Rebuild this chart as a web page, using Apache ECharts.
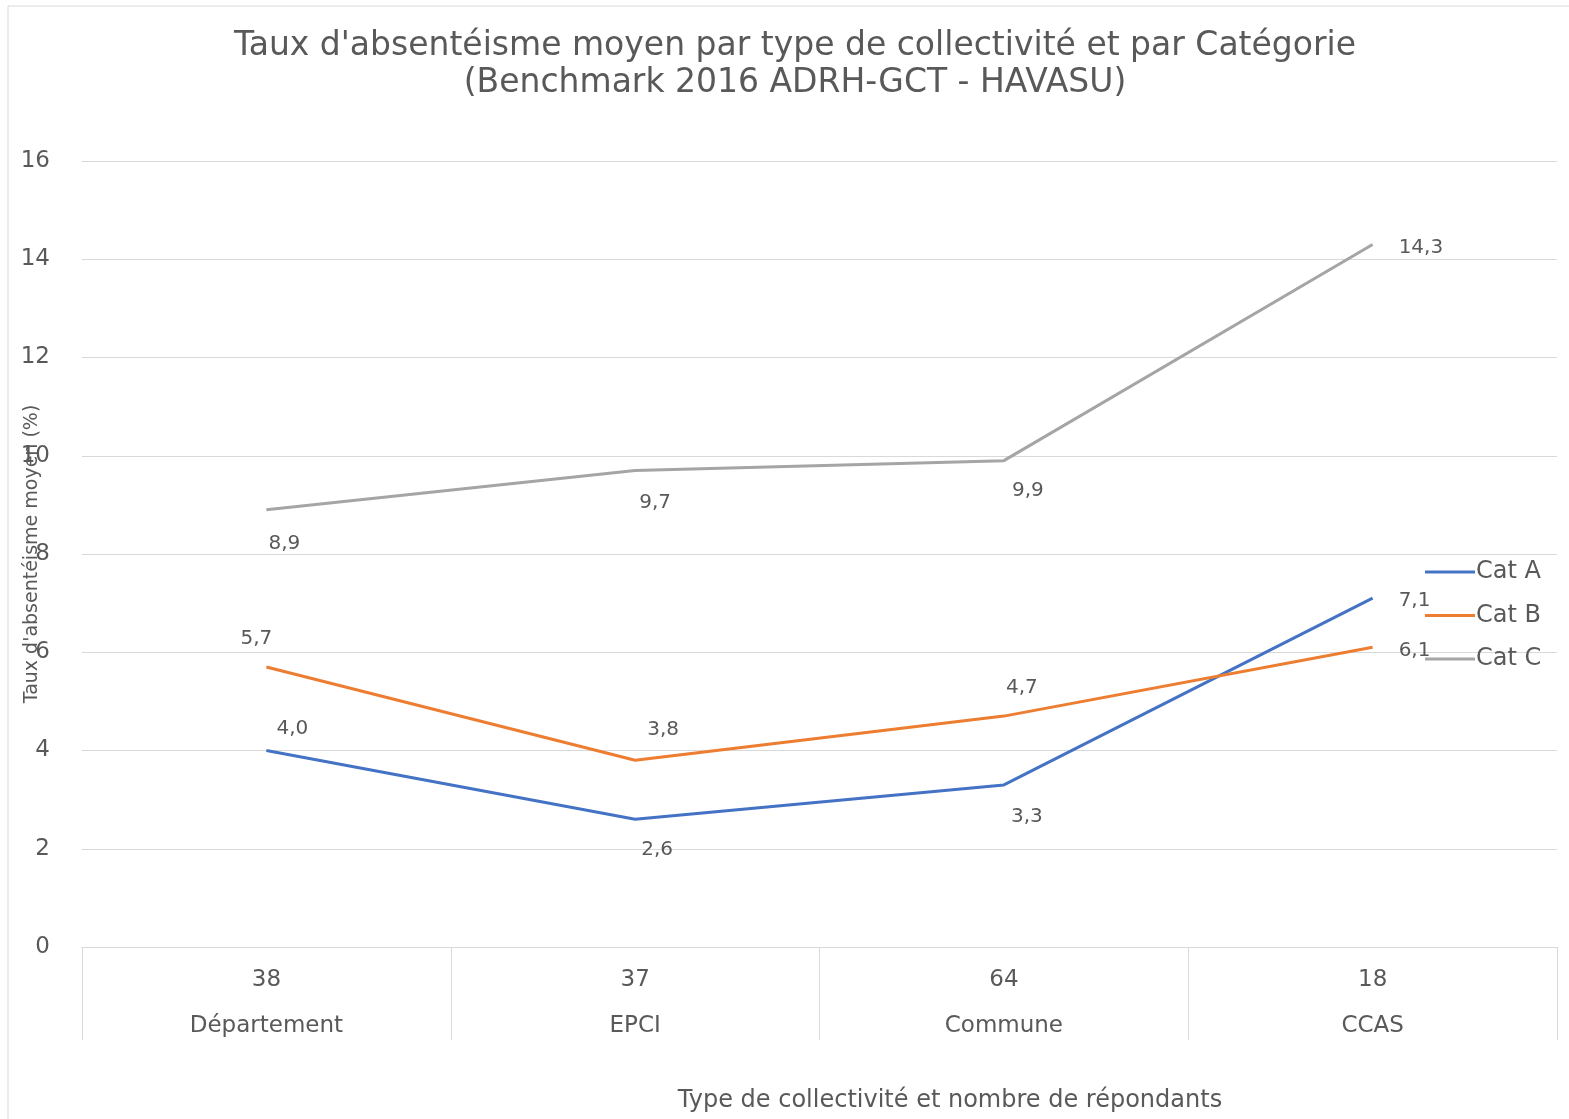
<!DOCTYPE html>
<html><head><meta charset="utf-8">
<script src="https://cdn.jsdelivr.net/npm/echarts@6/dist/echarts.min.js"></script>
<style>html,body{margin:0;padding:0;background:#fff}#c{width:1569px;height:1119px}</style>
</head><body><div id="c"></div>
<script>
const counts = ['38', '37', '64', '18'];
const categories = ['Département', 'EPCI', 'Commune', 'CCAS'];
const catA = [4.0, 2.6, 3.3, 7.1];
const catB = [5.7, 3.8, 4.7, 6.1];
const catC = [8.9, 9.7, 9.9, 14.3];
const seriesNames = ['Cat A', 'Cat B', 'Cat C'];
const yTicks = { min: 0, max: 16, interval: 2 };

// label placement (style only)
const placeA = [['top', [26, 0]], ['bottom', [22, 9]], ['bottom', [23, 10]], ['right', [14, 3]]];
const placeB = [['top', [-10, -6]], ['top', [28, -9]], ['top', [18, -6]], ['right', [14, 3]]];
const placeC = [['bottom', [18, 12]], ['bottom', [20, 10]], ['bottom', [24, 8]], ['right', [14, 3]]];

const txt = '#595959';
const font = 'DejaVu Sans';
function mk(vals, place) {
  return vals.map((v, i) => ({
    value: v,
    label: { position: place[i][0], offset: place[i][1], distance: 12 }
  }));
}
const fmt = p => p.value.toFixed(1).replace('.', ',');
const colors = ['#4472C4', '#ED7D31', '#A5A5A5'];
const dataSets = [[catA, placeA], [catB, placeB], [catC, placeC]];

const chart = echarts.init(document.getElementById('c'));
chart.setOption({
  animation: false,
  textStyle: { fontFamily: font },
  title: [{
    text: "Taux d'absentéisme moyen par type de collectivité et par Catégorie\n(Benchmark 2016 ADRH-GCT - HAVASU)",
    left: 790, top: 23, textAlign: 'center',
    textStyle: { fontFamily: font, fontSize: 33, fontWeight: 'normal', color: txt, lineHeight: 37 }
  }, {
    text: 'Type de collectivité et nombre de répondants',
    left: 945, top: 1084, textAlign: 'center',
    textStyle: { fontFamily: font, fontSize: 24, fontWeight: 'normal', color: txt }
  }],
  graphic: [{
    type: 'rect', shape: { x: 8, y: 6, width: 1570, height: 1120 },
    style: { fill: 'none', stroke: '#d9d9d9', lineWidth: 1 }, silent: true
  }],
  legend: {
    orient: 'vertical', left: 1420, top: 555, itemGap: 19.5,
    itemWidth: 50, itemHeight: 3, icon: 'rect',
    textStyle: { fontFamily: font, fontSize: 24, color: txt, padding: [0, 0, 0, -4] },
    data: seriesNames
  },
  grid: { left: 82, right: 12, top: 161, bottom: 172, containLabel: false, outerBoundsMode: 'none' },
  xAxis: {
    type: 'category',
    data: categories.map((c, i) => counts[i] + '\n' + c),
    boundaryGap: true,
    axisLine: { lineStyle: { color: '#d9d9d9', width: 1 } },
    axisTick: { show: true, length: 93, lineStyle: { color: '#d9d9d9' }, alignWithLabel: false },
    axisLabel: { color: txt, fontSize: 23, lineHeight: 46, margin: 10, fontFamily: font }
  },
  yAxis: {
    type: 'value', min: yTicks.min, max: yTicks.max, interval: yTicks.interval,
    name: "Taux d'absentéisme moyen (%)", nameLocation: 'middle', nameGap: 40, nameMoveOverlap: false,
    nameTextStyle: { color: txt, fontSize: 19, fontFamily: font },
    axisLine: { show: false }, axisTick: { show: false },
    axisLabel: { color: txt, fontSize: 23, margin: 32, fontFamily: font },
    splitLine: { lineStyle: { color: '#d9d9d9', width: 1 } }
  },
  series: dataSets.map((d, k) => ({
    name: seriesNames[k], type: 'line', showSymbol: true, symbol: 'circle', symbolSize: 0,
    lineStyle: { width: 3, color: colors[k] }, itemStyle: { color: colors[k] },
    label: { show: true, formatter: fmt, color: txt, fontSize: 20, fontFamily: font },
    data: mk(d[0], d[1])
  }))
});
</script></body></html>
